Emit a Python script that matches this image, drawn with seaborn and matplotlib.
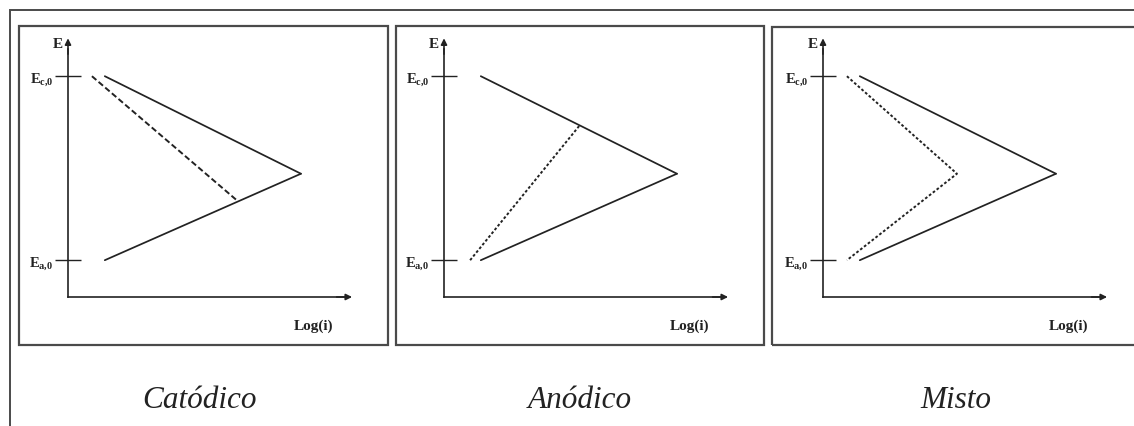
import numpy as np
import pandas as pd
import matplotlib
matplotlib.use("Agg")
import matplotlib.pyplot as plt
from matplotlib.patches import Rectangle
import seaborn as sns

# ---- data (E vs log(i), arbitrary units) ----
titles = ["Catódico", "Anódico", "Misto"]
E_c0 = 6.0          # equilibrium potential, cathodic reaction
E_a0 = 1.0          # equilibrium potential, anodic reaction
logi_start = 1.0    # log(i0) where both Tafel branches start
logi_corr = 6.33    # log(i_corr) of the uncontrolled system
E_corr = 3.35       # E_corr of the uncontrolled system

cath_logi = [logi_start, logi_corr]
cath_E = [E_c0, E_corr]
anod_logi = [logi_start, logi_corr]
anod_E = [E_a0, E_corr]

# controlled (polarised) branches for each case
ctrl_logi = [[0.65, 4.62], [0.71, 3.70], [0.65, 3.64, 0.65]]
ctrl_E = [[6.0, 2.60], [1.0, 4.68], [6.0, 3.35, 1.0]]
ctrl_style = [(0, (3.0, 1.5)), (0, (1.4, 1.1)), (0, (1.4, 1.1))]

tick_pos = [E_a0, E_c0]
tick_labels = [r"$\mathbf{E}_{\mathbf{a{,}0}}$", r"$\mathbf{E}_{\mathbf{c{,}0}}$"]

# ---- style ----
sns.set_theme(style="white")
plt.rcParams["font.family"] = ["Liberation Serif", "DejaVu Serif"]
plt.rcParams["mathtext.fontset"] = "custom"
plt.rcParams["mathtext.rm"] = "Liberation Serif"
plt.rcParams["mathtext.bf"] = "Liberation Serif:bold"
plt.rcParams["mathtext.it"] = "Liberation Serif:italic"

W, H = 1134, 427
fig = plt.figure(figsize=(W / 100, H / 100), dpi=100)
fig.patch.set_facecolor("white")

LINE = "#222222"
FRAME = "#4a4a4a"
unit = 36.8  # pixels per data unit

# panel boxes (left, top, right, bottom) and axis origins, in pixels
boxes = [(19, 27, 388, 346), (396, 27, 764, 346), (772, 28, 1145, 346)]
origins = [(68, 298), (444, 298), (823, 298)]
caption_x = [200, 580, 956]

# outer frame
fig.add_artist(Rectangle((10 / W, -0.1), 1.2, 1 - 11 / H + 0.1,
                         transform=fig.transFigure, fill=False,
                         edgecolor=FRAME, linewidth=1.4))

for k in range(3):
    L, T, R, B = boxes[k]
    ox, oy = origins[k]
    ax = fig.add_axes([L / W, 1 - B / H, (R - L) / W, (B - T) / H])
    ax.set_xlim((L - ox) / unit, (R - ox) / unit)
    ax.set_ylim((oy - B) / unit, (oy - T) / unit)
    ax.set_facecolor("none")

    # panel frame
    ax.add_patch(Rectangle((0, 0), 1, 1, transform=ax.transAxes, fill=False,
                           edgecolor=FRAME, linewidth=1.6, clip_on=False))

    # coordinate axes through the origin
    for s in ["top", "right"]:
        ax.spines[s].set_visible(False)
    ax.spines["left"].set_position(("data", 0))
    ax.spines["bottom"].set_position(("data", 0))
    ax.spines["left"].set_bounds(0, 6.75)
    ax.spines["bottom"].set_bounds(0, 7.5)
    for s in ["left", "bottom"]:
        ax.spines[s].set_color(LINE)
        ax.spines[s].set_linewidth(1.2)
    ax.annotate("", xy=(0, 7.03), xytext=(0, 6.6),
                arrowprops=dict(arrowstyle="-|>", color=LINE, lw=1.2,
                                mutation_scale=9, shrinkA=0, shrinkB=0))
    ax.annotate("", xy=(7.72, 0), xytext=(7.3, 0),
                arrowprops=dict(arrowstyle="-|>", color=LINE, lw=1.2,
                                mutation_scale=9, shrinkA=0, shrinkB=0))

    ax.set_xticks([])
    ax.set_yticks(tick_pos)
    ax.set_yticklabels(tick_labels)
    ax.tick_params(axis="y", direction="inout", length=19, width=1.0,
                   color=LINE, pad=1, labelsize=10.5, labelcolor=LINE, left=True)
    ax.grid(False)

    ax.text(-0.14, 6.88, "E", ha="right", va="center", fontsize=11,
            fontweight="bold", color=LINE)
    ax.text(6.68, -0.78, "Log(i)", ha="center", va="center", fontsize=11,
            fontweight="bold", color=LINE)

    # Tafel branches of the uncontrolled system
    df = pd.DataFrame({"logi": cath_logi + anod_logi,
                       "E": cath_E + anod_E,
                       "branch": ["c", "c", "a", "a"]})
    for br in ["c", "a"]:
        sub = df[df.branch == br]
        sns.lineplot(data=sub, x="logi", y="E", ax=ax, color=LINE,
                     linewidth=1.25, sort=False, estimator=None)

    # controlled branch
    sns.lineplot(x=ctrl_logi[k], y=ctrl_E[k], ax=ax, color=LINE,
                 linewidth=1.4, linestyle=ctrl_style[k], sort=False,
                 estimator=None)
    ax.set_xlabel("")
    ax.set_ylabel("")

    fig.text(caption_x[k] / W, 1 - 408 / H, titles[k], ha="center",
             va="baseline", fontsize=22.5, fontstyle="italic", color="#222222")

fig.savefig("out.png", dpi=100, facecolor="white")
